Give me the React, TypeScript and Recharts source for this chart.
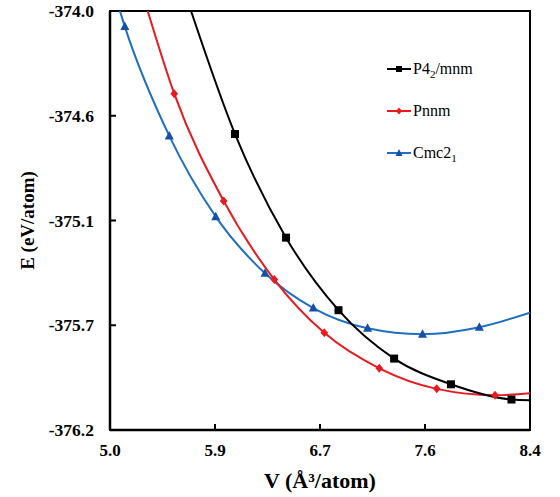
import { ComposedChart, Line, Scatter, XAxis, YAxis, ReferenceArea } from 'recharts';

const xTicks = [5.0, 5.85, 6.7, 7.55, 8.4];
const xTickLabels = ['5.0', '5.9', '6.7', '7.6', '8.4'];
const yTicks = [-376.2, -375.65, -375.1, -374.55, -374.0];
const yTickLabels = ['-376.2', '-375.7', '-375.1', '-374.6', '-374.0'];

// computed points (V, E)
const p42Points = [
  { v: 6.012, e: -374.646 },
  { v: 6.425, e: -375.19 },
  { v: 6.85, e: -375.571 },
  { v: 7.3, e: -375.825 },
  { v: 7.76, e: -375.96 },
  { v: 8.25, e: -376.04 },
];
const pnnmPoints = [
  { v: 5.52, e: -374.434 },
  { v: 5.92, e: -374.997 },
  { v: 6.33, e: -375.41 },
  { v: 6.735, e: -375.69 },
  { v: 7.18, e: -375.876 },
  { v: 7.645, e: -375.984 },
  { v: 8.117, e: -376.017 },
];
const cmcPoints = [
  { v: 5.12, e: -374.082 },
  { v: 5.48, e: -374.656 },
  { v: 5.856, e: -375.08 },
  { v: 6.255, e: -375.377 },
  { v: 6.646, e: -375.56 },
  { v: 7.085, e: -375.666 },
  { v: 7.53, e: -375.697 },
  { v: 7.99, e: -375.66 },
];

// where the fitted curves leave the frame
const p42Ends = [{ v: 5.656, e: -374.0 }, { v: 8.4, e: -376.044 }];
const pnnmEnds = [{ v: 5.305, e: -374.0 }, { v: 8.4, e: -376.007 }];
const cmcEnds = [{ v: 5.08, e: -374.0 }, { v: 8.4, e: -375.584 }];

const curve = (pts: any[], ends: any[]) => [ends[0], ...pts, ends[1]];

const BLACK = '#000000';
const RED = '#e8191f';
const BLUE = '#1f6fc0';
const BLUE_MK = '#1450a8';

const Square = (p: any) => <rect x={p.cx - 4} y={p.cy - 4} width={8} height={8} fill={BLACK} />;
const Diamond = (p: any) => (
  <path d={`M${p.cx},${p.cy - 4.5}L${p.cx + 3.8},${p.cy}L${p.cx},${p.cy + 4.5}L${p.cx - 3.8},${p.cy}Z`} fill={RED} />
);
const Triangle = (p: any) => (
  <path d={`M${p.cx},${p.cy - 5}L${p.cx + 4.5},${p.cy + 3.5}L${p.cx - 4.5},${p.cy + 3.5}Z`} fill={BLUE_MK} />
);

const serif = "'Liberation Serif', 'Times New Roman', serif";
const X_GAP = 14;
const Y_GAP = 16;

// inward tick marks drawn with the labels
const XTick = (p: any) => {
  const ay = p.y - X_GAP;
  return (
    <g>
      <line x1={p.x} y1={ay} x2={p.x} y2={ay - 6} stroke="#000" strokeWidth={2} />
      <text x={p.x} y={p.y} dy="0.71em" textAnchor="middle" fill="#000" fontSize={17} fontWeight="bold" fontFamily={serif}>
        {xTickLabels[xTicks.indexOf(p.payload.value)]}
      </text>
    </g>
  );
};
const YTick = (p: any) => {
  const ax = p.x + Y_GAP;
  return (
    <g>
      <line x1={ax} y1={p.y} x2={ax + 6} y2={p.y} stroke="#000" strokeWidth={2} />
      <text x={p.x} y={p.y} dy="0.35em" textAnchor="end" fill="#000" fontSize={17.5} fontWeight="bold" fontFamily={serif}>
        {yTickLabels[yTicks.indexOf(p.payload.value)]}
      </text>
    </g>
  );
};

const legendItems = [
  { name: 'P4', sub: '2', rest: '/mnm', color: BLACK, marker: 'square' },
  { name: 'Pnnm', sub: '', rest: '', color: RED, marker: 'diamond' },
  { name: 'Cmc2', sub: '1', rest: '', color: BLUE, marker: 'triangle' },
];

const LegendMarker = ({ color, marker }: { color: string; marker: string }) => (
  <svg width={26} height={12} style={{ marginRight: 1 }}>
    <line x1={1} y1={6} x2={25} y2={6} stroke={color} strokeWidth={2} />
    {marker === 'square' && <rect x={10} y={3} width={6} height={6} fill={BLACK} />}
    {marker === 'diamond' && <path d="M13,2.5L16,6L13,9.5L10,6Z" fill={RED} />}
    {marker === 'triangle' && <path d="M13,2L16.5,9L9.5,9Z" fill={BLUE_MK} />}
  </svg>
);

export default function App() {
  return (
    <div style={{ position: 'absolute', left: 0, top: 0, width: 560, height: 497, background: '#fff', fontFamily: serif }}>
      <ComposedChart width={560} height={497} margin={{ top: 11, right: 30, left: 0, bottom: 0 }}>
        <XAxis
          type="number"
          dataKey="v"
          domain={[5.0, 8.4]}
          ticks={xTicks}
          allowDataOverflow
          height={67}
          tickSize={0}
          tickMargin={X_GAP}
          axisLine={{ stroke: '#000', strokeWidth: 2.5 }}
          tickLine={false}
          tick={<XTick />}
          label={{
            value: 'V (Å³/atom)',
            position: 'insideBottom',
            offset: 9,
            style: { fill: '#000', fontSize: 22, fontWeight: 'bold', fontFamily: serif },
          }}
        />
        <YAxis
          type="number"
          dataKey="e"
          domain={[-376.2, -374.0]}
          ticks={yTicks}
          allowDataOverflow
          width={110}
          tickSize={0}
          tickMargin={Y_GAP}
          axisLine={{ stroke: '#000', strokeWidth: 2.5 }}
          tickLine={false}
          tick={<YTick />}
          label={{
            value: 'E (eV/atom)',
            angle: -90,
            position: 'insideLeft',
            offset: 27,
            style: { fill: '#000', fontSize: 19, fontWeight: 'bold', fontFamily: serif, textAnchor: 'middle' },
          }}
        />
        <ReferenceArea x1={5.0} x2={8.4} y1={-376.2} y2={-374.0} fill="none" stroke="#000" strokeWidth={2} />
        <Line data={curve(cmcPoints, cmcEnds)} dataKey="e" type="monotone" stroke={BLUE} strokeWidth={2} dot={false} isAnimationActive={false} />
        <Line data={curve(pnnmPoints, pnnmEnds)} dataKey="e" type="monotone" stroke={RED} strokeWidth={2} dot={false} isAnimationActive={false} />
        <Line data={curve(p42Points, p42Ends)} dataKey="e" type="monotone" stroke={BLACK} strokeWidth={2} dot={false} isAnimationActive={false} />
        <Scatter data={cmcPoints} dataKey="e" shape={Triangle} isAnimationActive={false} />
        <Scatter data={pnnmPoints} dataKey="e" shape={Diamond} isAnimationActive={false} />
        <Scatter data={p42Points} dataKey="e" shape={Square} isAnimationActive={false} />
      </ComposedChart>
      <div style={{ position: 'absolute', left: 386, top: 59, fontSize: 16, color: '#000' }}>
        {legendItems.map((it) => (
          <div key={it.name} style={{ display: 'flex', alignItems: 'center', height: 20, marginBottom: 22 }}>
            <LegendMarker color={it.color} marker={it.marker} />
            <span>
              {it.name}
              {it.sub && <sub style={{ fontSize: 11, verticalAlign: 'sub', lineHeight: 0 }}>{it.sub}</sub>}
              {it.rest}
            </span>
          </div>
        ))}
      </div>
    </div>
  );
}
